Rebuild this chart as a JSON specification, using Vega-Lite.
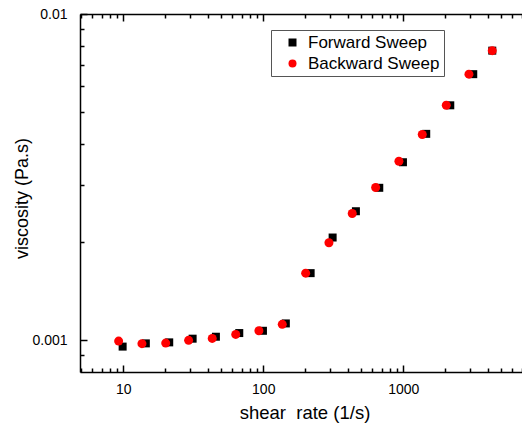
{
  "$schema": "https://vega.github.io/schema/vega-lite/v6.json",
  "width": 442,
  "height": 358,
  "autosize": {"type": "none"},
  "padding": {"left": 80, "top": 14, "right": 0, "bottom": 53},
  "background": "white",
  "config": {
    "view": {"stroke": null},
    "font": "Liberation Sans",
    "axis": {
      "domainColor": "black",
      "domainWidth": 1.5,
      "tickColor": "black",
      "tickWidth": 1.5,
      "grid": false,
      "labelFont": "Liberation Sans",
      "labelFontSize": 14,
      "labelColor": "black",
      "titleFont": "Liberation Sans",
      "titleFontWeight": "normal",
      "titleColor": "black",
      "titleFontSize": 18
    },
    "legend": {
      "orient": "none",
      "legendX": 191,
      "legendY": 16,
      "strokeColor": "#555",
      "padding": 4,
      "labelFont": "Liberation Sans",
      "labelFontSize": 17,
      "labelColor": "black",
      "symbolSize": 64,
      "symbolOffset": 9,
      "labelOffset": 7,
      "rowPadding": 3
    }
  },
  "data": {
    "values": [
      {"series": "Forward Sweep", "rate": 9.9, "viscosity": 0.000957},
      {"series": "Forward Sweep", "rate": 14.5, "viscosity": 0.000979},
      {"series": "Forward Sweep", "rate": 21.3, "viscosity": 0.000986},
      {"series": "Forward Sweep", "rate": 31.3, "viscosity": 0.001012},
      {"series": "Forward Sweep", "rate": 45.9, "viscosity": 0.001026},
      {"series": "Forward Sweep", "rate": 67.4, "viscosity": 0.001053},
      {"series": "Forward Sweep", "rate": 99.5, "viscosity": 0.00107},
      {"series": "Forward Sweep", "rate": 145, "viscosity": 0.001127},
      {"series": "Forward Sweep", "rate": 218, "viscosity": 0.001607},
      {"series": "Forward Sweep", "rate": 313, "viscosity": 0.002066},
      {"series": "Forward Sweep", "rate": 459, "viscosity": 0.002487},
      {"series": "Forward Sweep", "rate": 674, "viscosity": 0.002934},
      {"series": "Forward Sweep", "rate": 995, "viscosity": 0.003514},
      {"series": "Forward Sweep", "rate": 1459, "viscosity": 0.004293},
      {"series": "Forward Sweep", "rate": 2167, "viscosity": 0.005251},
      {"series": "Forward Sweep", "rate": 3162, "viscosity": 0.006541},
      {"series": "Forward Sweep", "rate": 4323, "viscosity": 0.007722},
      {"series": "Backward Sweep", "rate": 9.27, "viscosity": 0.000995},
      {"series": "Backward Sweep", "rate": 13.6, "viscosity": 0.000977},
      {"series": "Backward Sweep", "rate": 20.1, "viscosity": 0.000981},
      {"series": "Backward Sweep", "rate": 29.3, "viscosity": 0.001},
      {"series": "Backward Sweep", "rate": 43.2, "viscosity": 0.001014},
      {"series": "Backward Sweep", "rate": 63.6, "viscosity": 0.001043},
      {"series": "Backward Sweep", "rate": 93.1, "viscosity": 0.00107},
      {"series": "Backward Sweep", "rate": 136.7, "viscosity": 0.00112},
      {"series": "Backward Sweep", "rate": 200.9, "viscosity": 0.001607},
      {"series": "Backward Sweep", "rate": 294.6, "viscosity": 0.001991},
      {"series": "Backward Sweep", "rate": 432, "viscosity": 0.002447},
      {"series": "Backward Sweep", "rate": 635, "viscosity": 0.00294},
      {"series": "Backward Sweep", "rate": 931, "viscosity": 0.003539},
      {"series": "Backward Sweep", "rate": 1367, "viscosity": 0.004272},
      {"series": "Backward Sweep", "rate": 2029, "viscosity": 0.005251},
      {"series": "Backward Sweep", "rate": 2946, "viscosity": 0.006541},
      {"series": "Backward Sweep", "rate": 4323, "viscosity": 0.007722}
    ]
  },
  "layer": [
    {
      "transform": [{"filter": "datum.series === 'Forward Sweep'"}],
      "mark": {"type": "point", "filled": true, "opacity": 1, "size": 64},
      "encoding": {
        "x": {
          "field": "rate", "type": "quantitative",
          "scale": {"type": "log", "domain": [4.91, 7050], "nice": false},
          "axis": {
            "orient": "bottom",
            "title": "shear\u00a0 rate (1/s)",
            "titleFontSize": 18.5,
            "titleX": 224.5,
            "titleY": 46,
            "titleAlign": "center",
            "titleBaseline": "alphabetic",
            "values": [5,6,7,8,9,10,20,30,40,50,60,70,80,90,100,200,300,400,500,600,700,800,900,1000,2000,3000,4000,5000,6000,7000],
            "labelExpr": "(abs(log(datum.value)/LN10 - round(log(datum.value)/LN10)) < 0.000001) ? format(datum.value, 'd') : ''",
            "tickSize": {"condition": {"test": "abs(log(datum.value)/LN10 - round(log(datum.value)/LN10)) < 0.000001", "value": -7}, "value": -4},
            "labelPadding": 17,
            "labelFlush": false,
            "labelOverlap": false
          }
        },
        "y": {
          "field": "viscosity", "type": "quantitative",
          "scale": {"type": "log", "domain": [0.0008, 0.01], "nice": false},
          "axis": {
            "title": "viscosity (Pa.s)",
            "titleX": -58,
            "titleY": 184,
            "titleAngle": -90,
            "titleAlign": "center",
            "titleBaseline": "middle",
            "values": [0.0009,0.001,0.002,0.003,0.004,0.005,0.006,0.007,0.008,0.009,0.01],
            "labelExpr": "(abs(log(datum.value)/LN10 - round(log(datum.value)/LN10)) < 0.000001) ? format(datum.value, '~g') : ''",
            "tickSize": {"condition": {"test": "abs(log(datum.value)/LN10 - round(log(datum.value)/LN10)) < 0.000001", "value": -7}, "value": -4},
            "labelPadding": 20,
            "labelFlush": false,
            "labelOverlap": false
          }
        },
        "color": {
          "field": "series", "type": "nominal",
          "scale": {"domain": ["Forward Sweep", "Backward Sweep"], "range": ["black", "#ff0000"]},
          "legend": {"title": null}
        },
        "shape": {
          "field": "series", "type": "nominal",
          "scale": {"domain": ["Forward Sweep", "Backward Sweep"], "range": ["square", "circle"]},
          "legend": {"title": null}
        }
      }
    },
    {
      "transform": [{"filter": "datum.series === 'Backward Sweep'"}],
      "mark": {"type": "point", "filled": true, "opacity": 1, "size": 81},
      "encoding": {
        "x": {
          "field": "rate", "type": "quantitative",
          "scale": {"type": "log", "domain": [4.91, 7050], "nice": false},
          "axis": {
            "orient": "top",
            "title": null,
            "labels": false,
            "values": [5,6,7,8,9,10,20,30,40,50,60,70,80,90,100,200,300,400,500,600,700,800,900,1000,2000,3000,4000,5000,6000,7000],
            "tickSize": {"condition": {"test": "abs(log(datum.value)/LN10 - round(log(datum.value)/LN10)) < 0.000001", "value": -7}, "value": -4}
          }
        },
        "y": {
          "field": "viscosity", "type": "quantitative",
          "scale": {"type": "log", "domain": [0.0008, 0.01], "nice": false}
        },
        "color": {
          "field": "series", "type": "nominal",
          "scale": {"domain": ["Forward Sweep", "Backward Sweep"], "range": ["black", "#ff0000"]},
          "legend": {"title": null}
        },
        "shape": {
          "field": "series", "type": "nominal",
          "scale": {"domain": ["Forward Sweep", "Backward Sweep"], "range": ["square", "circle"]},
          "legend": {"title": null}
        }
      }
    }
  ],
  "resolve": {"axis": {"x": "independent"}}
}
